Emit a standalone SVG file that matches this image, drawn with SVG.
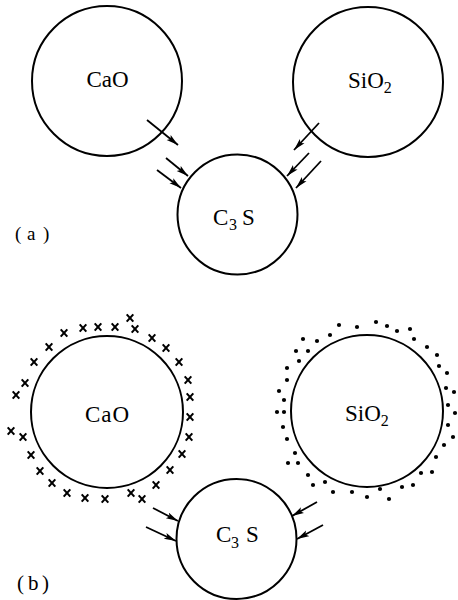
<svg xmlns="http://www.w3.org/2000/svg" xmlns:xlink="http://www.w3.org/1999/xlink" width="458" height="600" viewBox="0 0 458 600">
<style>
.c{fill:none;stroke:#000;stroke-width:2}
.t{font-family:"Liberation Serif","Times New Roman",serif;font-size:23px;fill:#000}
.s{font-size:16px}
.l{font-family:"Liberation Serif","Times New Roman",serif;fill:#000}
.a{stroke:#000;stroke-width:1.8;fill:none;marker-end:url(#ah)}
.x{stroke:#000;stroke-width:2.1;fill:none}
.d{fill:#000}
</style>
<defs>
<marker id="ah" markerUnits="userSpaceOnUse" markerWidth="13" markerHeight="8" refX="12" refY="3.5" orient="auto">
<path d="M0,0.3 L12,3.5 L0,6.7 L2.5,3.5 Z" fill="#000"/>
</marker>
<path id="xm" d="M-3.3,-3.6 L3.3,3.6 M3.3,-3.6 L-3.3,3.6"/>
<circle id="dt" r="2.1"/>
</defs>
<rect width="458" height="600" fill="#fff"/>

<g id="a-cao"><circle class="c" cx="107" cy="81" r="75"/><text class="t" x="107.5" y="87" text-anchor="middle">CaO</text></g>
<g id="a-sio2"><circle class="c" cx="368" cy="82" r="75"/><text class="t" x="348" y="88">SiO<tspan class="s" dy="5">2</tspan></text></g>
<g id="a-c3s"><circle class="c" cx="237.5" cy="214.5" r="60"/><text class="t" x="213" y="225">C<tspan class="s" x="229" dy="5">3</tspan><tspan x="242" dy="-5">S</tspan></text></g>
<text class="l" font-size="19" x="15 27 43" y="240">(a)</text>

<g id="connectors-a">
<line class="a" x1="147" y1="120" x2="178" y2="145"/>
<line class="a" x1="166" y1="158" x2="188" y2="176"/>
<line class="a" x1="157" y1="170" x2="181" y2="188"/>
<line class="a" x1="319" y1="123" x2="294" y2="150"/>
<line class="a" x1="309" y1="153" x2="287" y2="176"/>
<line class="a" x1="321" y1="161" x2="296" y2="188"/>
</g>

<g id="b-cao"><circle class="c" cx="107" cy="412" r="76"/><text class="t" x="107.5" y="422" text-anchor="middle" letter-spacing="1">CaO</text>
<g class="x">
<use xlink:href="#xm" x="16" y="395"/><use xlink:href="#xm" x="25" y="383"/><use xlink:href="#xm" x="34" y="362"/><use xlink:href="#xm" x="49" y="347"/><use xlink:href="#xm" x="64" y="333"/><use xlink:href="#xm" x="83" y="328"/><use xlink:href="#xm" x="98" y="327"/><use xlink:href="#xm" x="115" y="327"/><use xlink:href="#xm" x="130" y="318"/><use xlink:href="#xm" x="135" y="329"/><use xlink:href="#xm" x="152" y="338"/><use xlink:href="#xm" x="166" y="348"/><use xlink:href="#xm" x="179" y="362"/><use xlink:href="#xm" x="188" y="380"/><use xlink:href="#xm" x="190" y="397"/><use xlink:href="#xm" x="190" y="417"/><use xlink:href="#xm" x="189" y="437"/><use xlink:href="#xm" x="182" y="454"/><use xlink:href="#xm" x="170" y="470"/><use xlink:href="#xm" x="156" y="485"/><use xlink:href="#xm" x="142" y="499"/><use xlink:href="#xm" x="131" y="493"/><use xlink:href="#xm" x="105" y="499"/><use xlink:href="#xm" x="85" y="498"/><use xlink:href="#xm" x="67" y="493"/><use xlink:href="#xm" x="52" y="483"/><use xlink:href="#xm" x="40" y="471"/><use xlink:href="#xm" x="31" y="455"/><use xlink:href="#xm" x="23" y="437"/><use xlink:href="#xm" x="11" y="431"/>
</g></g>
<g id="b-sio2"><circle class="c" cx="367" cy="411" r="76"/><text class="t" x="345" y="421">SiO<tspan class="s" dy="5">2</tspan></text>
<g class="d">
<use xlink:href="#dt" x="339" y="325"/><use xlink:href="#dt" x="357" y="327"/><use xlink:href="#dt" x="376" y="322"/><use xlink:href="#dt" x="387" y="326"/><use xlink:href="#dt" x="397" y="331"/><use xlink:href="#dt" x="410" y="329"/><use xlink:href="#dt" x="414" y="339"/><use xlink:href="#dt" x="427" y="347"/><use xlink:href="#dt" x="437" y="355"/><use xlink:href="#dt" x="439" y="366"/><use xlink:href="#dt" x="447" y="373"/><use xlink:href="#dt" x="446" y="388"/><use xlink:href="#dt" x="454" y="392"/><use xlink:href="#dt" x="448" y="405"/><use xlink:href="#dt" x="455" y="413"/><use xlink:href="#dt" x="448" y="425"/><use xlink:href="#dt" x="453" y="437"/><use xlink:href="#dt" x="444" y="445"/><use xlink:href="#dt" x="436" y="457"/><use xlink:href="#dt" x="432" y="472"/><use xlink:href="#dt" x="421" y="473"/><use xlink:href="#dt" x="413" y="485"/><use xlink:href="#dt" x="402" y="487"/><use xlink:href="#dt" x="389" y="499"/><use xlink:href="#dt" x="380" y="489"/><use xlink:href="#dt" x="367" y="497"/><use xlink:href="#dt" x="352" y="492"/><use xlink:href="#dt" x="333" y="492"/><use xlink:href="#dt" x="325" y="482"/><use xlink:href="#dt" x="313" y="485"/><use xlink:href="#dt" x="308" y="475"/><use xlink:href="#dt" x="298" y="463"/><use xlink:href="#dt" x="288" y="463"/><use xlink:href="#dt" x="295" y="453"/><use xlink:href="#dt" x="287" y="439"/><use xlink:href="#dt" x="283" y="427"/><use xlink:href="#dt" x="277" y="412"/><use xlink:href="#dt" x="284" y="412"/><use xlink:href="#dt" x="284" y="400"/><use xlink:href="#dt" x="279" y="391"/><use xlink:href="#dt" x="287" y="380"/><use xlink:href="#dt" x="287" y="368"/><use xlink:href="#dt" x="299" y="361"/><use xlink:href="#dt" x="296" y="351"/><use xlink:href="#dt" x="308" y="351"/><use xlink:href="#dt" x="303" y="339"/><use xlink:href="#dt" x="317" y="341"/><use xlink:href="#dt" x="330" y="335"/>
</g></g>
<g id="b-c3s"><circle class="c" cx="236.5" cy="539" r="60"/><text class="t" x="216" y="542">C<tspan class="s" x="231" dy="6">3</tspan><tspan x="246" dy="-6">S</tspan></text></g>
<text class="l" font-size="21" x="17 28 42" y="590">(b)</text>

<g id="connectors-b">
<line class="a" x1="153" y1="508" x2="178" y2="521"/>
<line class="a" x1="146" y1="527" x2="176" y2="541"/>
<line class="a" x1="317" y1="502" x2="292" y2="516"/>
<line class="a" x1="323" y1="525" x2="297" y2="539"/>
</g>
</svg>
